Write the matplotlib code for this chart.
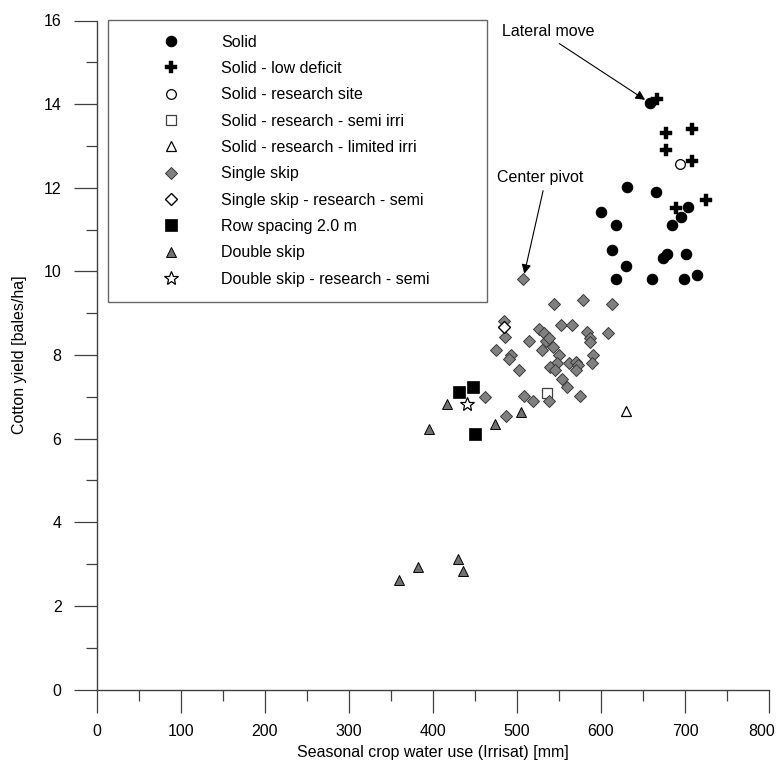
import matplotlib
matplotlib.use("Agg")
import matplotlib.pyplot as plt
import matplotlib.transforms as mtransforms
from matplotlib.lines import Line2D
from matplotlib.ticker import MultipleLocator

plt.rcParams['font.family'] = ['Liberation Sans', 'DejaVu Sans']

# ---------------- data ----------------
solid_x = [658, 631, 666, 600, 618, 703, 695, 684, 613, 630, 678, 674, 701, 618, 661, 699, 714]
solid_y = [14.03, 12.01, 11.91, 11.42, 11.11, 11.53, 11.31, 11.11, 10.51, 10.12, 10.42, 10.32, 10.42, 9.81, 9.81, 9.81, 9.92]

lowdef_x = [666.5, 677.7, 707.8, 676.9, 707.8, 724.5, 689.6]
lowdef_y = [14.12, 13.32, 13.40, 12.91, 12.63, 11.71, 11.51]

site_x = [693.5]
site_y = [12.56]

semi_irri_x = [535.3]
semi_irri_y = [7.10]

limited_x = [629.3]
limited_y = [6.66]

single_x = [507.2, 544.0, 578.5, 613.4, 484.2, 485.7, 552.0, 565.9, 608.6, 525.8,
            532.5, 514.2, 534.2, 538.0, 542.9, 529.4, 474.7, 493.2, 490.4, 583.3,
            587.3, 587.3, 590.4, 589.2, 549.6, 548.1, 538.9, 544.8, 561.5, 570.6,
            572.5, 570.6, 502.4, 553.4, 560.0, 574.6, 461.6, 508.3, 518.9, 537.7,
            487.3]
single_y = [9.81, 9.21, 9.32, 9.21, 8.82, 8.42, 8.72, 8.72, 8.52, 8.62,
            8.52, 8.33, 8.33, 8.40, 8.20, 8.12, 8.12, 8.00, 7.90, 8.55,
            8.40, 8.30, 8.01, 7.82, 8.00, 7.82, 7.72, 7.64, 7.82, 7.84,
            7.76, 7.63, 7.63, 7.42, 7.23, 7.02, 7.00, 7.02, 6.91, 6.89,
            6.53]

single_semi_x = [484.5]
single_semi_y = [8.66]

row2_x = [430.7, 447.7, 450.5]
row2_y = [7.11, 7.23, 6.12]

double_x = [416.8, 395.4, 473.5, 505.2, 359.3, 381.9, 429.8, 435.8]
double_y = [6.83, 6.22, 6.34, 6.63, 2.62, 2.92, 3.12, 2.83]

double_semi_x = [441.0]
double_semi_y = [6.82]

labels = ["Solid", "Solid - low deficit", "Solid - research site",
          "Solid - research - semi irri", "Solid - research - limited irri",
          "Single skip", "Single skip - research - semi", "Row spacing 2.0 m",
          "Double skip", "Double skip - research - semi"]

x_label = "Seasonal crop water use (Irrisat) [mm]"
y_label = "Cotton yield [bales/ha]"

# ---------------- figure ----------------
fig = plt.figure(figsize=(7.78, 7.62), dpi=100)
ax = fig.add_axes([97 / 778, 72.5 / 762, 672 / 778, 669 / 762])

GRAY_D = '#808080'
GRAY_T = '#707070'

series = [
    (solid_x, solid_y, dict(marker='o', ms=7.5, mfc='black', mec='black', mew=0.8)),
    (lowdef_x, lowdef_y, dict(marker='P', ms=8, mfc='black', mec='black', mew=0.3)),
    (site_x, site_y, dict(marker='o', ms=7, mfc='white', mec='black', mew=0.9)),
    (semi_irri_x, semi_irri_y, dict(marker='s', ms=7, mfc='white', mec='#404040', mew=0.9)),
    (limited_x, limited_y, dict(marker='^', ms=7, mfc='white', mec='black', mew=0.9)),
    (single_x, single_y, dict(marker='D', ms=6.3, mfc=GRAY_D, mec='#3a3a3a', mew=0.7)),
    (single_semi_x, single_semi_y, dict(marker='D', ms=6.3, mfc='white', mec='black', mew=1.0)),
    (row2_x, row2_y, dict(marker='s', ms=8, mfc='black', mec='black', mew=0.5)),
    (double_x, double_y, dict(marker='^', ms=7, mfc=GRAY_T, mec='black', mew=0.7)),
    (double_semi_x, double_semi_y, dict(marker='*', ms=10, mfc='white', mec='black', mew=0.9)),
]

handles = []
for (xs, ys, st), lab in zip(series, labels):
    ax.plot(xs, ys, linestyle='none', clip_on=False, **st)
    handles.append(Line2D([], [], linestyle='none', label=lab, **st))

ax.set_xlim(0, 800)
ax.set_ylim(0, 16)
ax.xaxis.set_major_locator(MultipleLocator(100))
ax.xaxis.set_minor_locator(MultipleLocator(50))
ax.yaxis.set_major_locator(MultipleLocator(2))
ax.yaxis.set_minor_locator(MultipleLocator(1))

for s in ['top', 'right']:
    ax.spines[s].set_visible(False)
for s in ['left', 'bottom']:
    ax.spines[s].set_color('#404040')
    ax.spines[s].set_linewidth(1.0)

ax.tick_params(which='major', direction='out', length=16.5, width=0.9, color='#404040',
               labelsize=11.5)
ax.tick_params(axis='y', which='major', pad=9)
ax.tick_params(axis='x', which='major', pad=8)
ax.tick_params(which='minor', direction='out', length=8, width=0.9, color='#404040')

ax.set_xlabel(x_label, fontsize=11.5, labelpad=5)
ax.set_ylabel(y_label, fontsize=11.5, labelpad=12)

leg = ax.legend(handles=handles, loc='upper left',
                bbox_to_anchor=(0.016, 0.0, 0.5645, 1.001), mode='expand',
                fontsize=11.5, frameon=True, fancybox=False, shadow=False,
                borderpad=0.93, labelspacing=0.71, handlelength=6.1,
                handletextpad=0.09, borderaxespad=0.0, numpoints=1)
leg.get_frame().set_edgecolor('#404040')
leg.get_frame().set_linewidth(1.0)

arrow = dict(arrowstyle='-|>', color='black', lw=0.8, mutation_scale=14,
             shrinkA=2, shrinkB=4)
ax.annotate('Lateral move', xy=(solid_x[0], solid_y[0]), xytext=(482, 15.73),
            fontsize=11.5, va='center', ha='left',
            arrowprops=dict(relpos=(0.55, 0.0), **arrow))
ax.annotate('Center pivot', xy=(single_x[0], single_y[0]), xytext=(476, 12.24),
            fontsize=11.5, va='center', ha='left',
            arrowprops=dict(relpos=(0.55, 0.0), **arrow))

# keep the last x tick label inside the canvas (nudged left a few pixels)
fig.canvas.draw()
nudge = mtransforms.ScaledTranslation(-7 / 100, 0, fig.dpi_scale_trans)
for t in ax.xaxis.get_major_ticks():
    if abs(t.get_loc() - 800) < 1e-6:
        t.label1.set_transform(t.label1.get_transform() + nudge)

fig.savefig('out.png', dpi=100)
